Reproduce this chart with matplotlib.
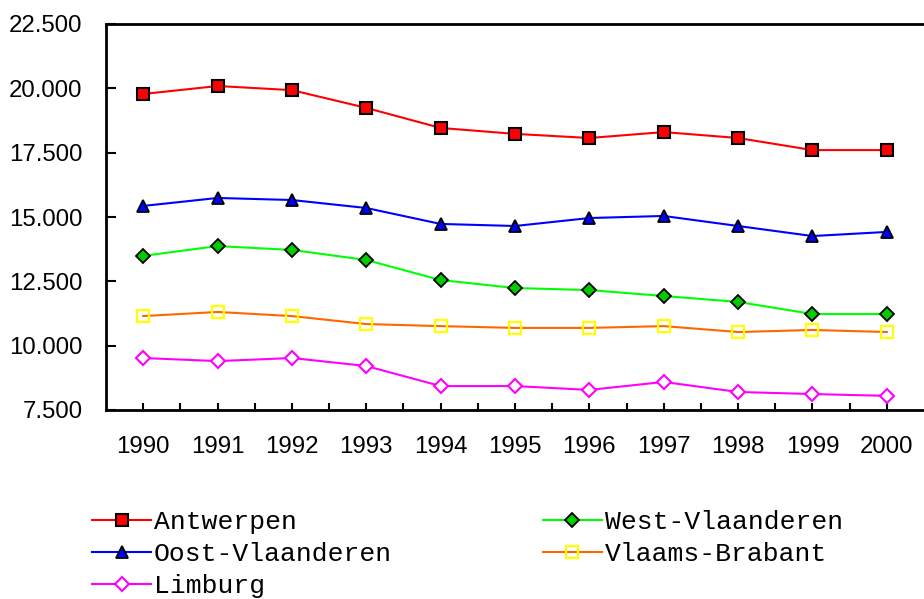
import matplotlib
matplotlib.use("Agg")
import matplotlib.pyplot as plt
from matplotlib.ticker import FuncFormatter, FixedLocator

years = ["1990", "1991", "1992", "1993", "1994", "1995", "1996", "1997", "1998", "1999", "2000"]
antwerpen = [19780, 20090, 19930, 19240, 18460, 18230, 18070, 18300, 18070, 17600, 17600]
oost_vlaanderen = [15430, 15740, 15660, 15350, 14730, 14650, 14960, 15040, 14650, 14260, 14420]
west_vlaanderen = [13490, 13870, 13720, 13330, 12550, 12240, 12160, 11930, 11700, 11230, 11230]
vlaams_brabant = [11150, 11310, 11150, 10840, 10760, 10690, 10690, 10760, 10530, 10610, 10530]
limburg = [9520, 9400, 9520, 9210, 8430, 8430, 8280, 8590, 8200, 8120, 8050]

fig = plt.figure(figsize=(9.24, 5.99), dpi=100)
ax = fig.add_axes([106/924, 1 - 410/599, 1 - 106/924, (410 - 24)/599])

x = list(range(len(years)))
lw = 1.5
ax.plot(x, antwerpen, color="#FF0000", lw=lw, marker="s", ms=8.5, mfc="#FF0000",
        mec="black", mew=1.5, label="Antwerpen", zorder=5)
ax.plot(x, oost_vlaanderen, color="#0000FF", lw=lw, marker="^", ms=9, mfc="#0000FF",
        mec="black", mew=1.3, label="Oost-Vlaanderen", zorder=5)
ax.plot(x, limburg, color="#FF00FF", lw=lw, marker="D", ms=7, mfc="white",
        mec="#FF00FF", mew=1.5, label="Limburg", zorder=5)
ax.plot(x, west_vlaanderen, color="#00FF00", lw=lw, marker="D", ms=7, mfc="#00CC00",
        mec="black", mew=1.3, label="West-Vlaanderen", zorder=5)
ax.plot(x, vlaams_brabant, color="#FF6600", lw=lw, marker="s", ms=8.5, mfc="none",
        mec="#FFFF00", mew=1.6, label="Vlaams-Brabant", zorder=5)

ax.set_xlim(-0.5, len(years) - 0.5)
ax.set_ylim(7500, 22500)
ax.set_yticks([7500, 10000, 12500, 15000, 17500, 20000, 22500])
ax.yaxis.set_major_formatter(FuncFormatter(lambda v, p: f"{v:,.0f}".replace(",", ".")))
ax.set_xticks(x)
ax.set_xticklabels(years)
ax.xaxis.set_minor_locator(FixedLocator([i + 0.5 for i in range(len(years) - 1)]))

ax.spines["right"].set_visible(False)
for s in ["left", "bottom", "top"]:
    ax.spines[s].set_linewidth(2)
    ax.spines[s].set_color("black")

ax.tick_params(axis="y", direction="in", length=7, width=1.5, pad=17,
               labelsize=17.3, labelcolor="black")
ax.tick_params(axis="x", which="major", direction="in", length=5, width=1.5, pad=19,
               labelsize=17.3)
ax.tick_params(axis="x", which="minor", direction="in", length=5, width=1.5)
for lab in ax.get_xticklabels() + ax.get_yticklabels():
    lab.set_fontfamily("Liberation Sans")

handles, labels = ax.get_legend_handles_labels()
leg = fig.legend(handles, labels, loc="upper left", bbox_to_anchor=(92/924, 1 - 510/599),
                 ncol=2, frameon=False, borderpad=0, borderaxespad=0,
                 handlelength=2.25, handletextpad=0.1, columnspacing=5.7,
                 labelspacing=0.3,
                 prop={"family": "Liberation Mono", "size": 19})

fig.savefig("out.png", dpi=100)
